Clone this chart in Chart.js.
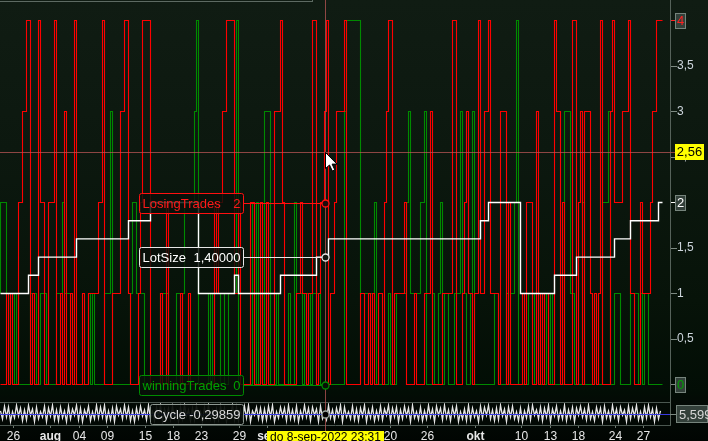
<!DOCTYPE html>
<html><head><meta charset="utf-8">
<script src="https://cdn.jsdelivr.net/npm/chart.js@4.4.0/dist/chart.umd.min.js"></script>
<style>
html,body{margin:0;padding:0;width:708px;height:441px;overflow:hidden;background:#010602;}
#wrap{position:relative;width:708px;height:441px;background:linear-gradient(to bottom,#101c13 0px,#0c180f 150px,#071309 300px,#020d05 392px,#030a05 402px,#020804 425px,#010502 441px);}
canvas{position:absolute;left:0;}
#main{top:0;width:708px;height:400px;}
#cyc{top:400px;width:708px;height:41px;}
</style></head><body><div id="wrap"><canvas id="main" width="708" height="400"></canvas><canvas id="cyc" width="708" height="41"></canvas></div>
<script>
// ---- data (one value per bar) ----
const losingTrades = [
 0,0,0,0,1,0,1,0,0,0, 2,2,3,3,4,4,0,1,0,0, 4,2,2,0,0,2,2,2,4,0, 0,1,0,3,0,0,1,0,4,0,
 0,0,1,0,0,1,1,1,1,1, 2,2,4,0,0,0,0,1,1,1, 1,3,3,4,4,1,0,0,0,0, 1,2,4,4,4,4,0,0,0,0,
 0,1,0,0,2,0,0,0,0,0, 0,1,0,0,0,1,0,0,0,0, 0,0,0,0,0,0,0,0,2,1, 2,2,3,3,4,4,4,4,1,1,
 2,0,0,0,0,0,2,2,0,0, 0,2,0,0,2,0,0,0,3,3, 3,4,2,0,0,0,0,0,0,1, 1,2,1,1,0,1,1,4,4,0,
 1,2,2,3,4,0,1,1,2,3, 3,3,3,4,0,0,0,0,0,0, 0,1,1,0,0,1,0,1,0,0, 1,1,0,2,3,4,4,0,1,1,
 1,1,1,2,0,0,0,0,1,0, 0,0,0,1,1,1,3,0,0,0, 0,0,1,1,1,1,1,4,4,0, 0,0,1,2,3,1,1,0,1,1,
 4,1,1,3,3,4,1,1,1,1, 0,3,3,3,0,2,0,0,0,0, 0,0,1,0,2,2,2,0,0,3, 0,1,0,1,1,0,0,0,4,3,
 3,0,2,0,0,0,0,4,4,0, 2,3,0,3,3,3,1,0,1,0, 1,4,0,0,0,0,3,4,2,2, 2,2,3,3,3,4,1,1,0,0,
 0,2,1,1,1,1,2,3,3,4, 4];
const winningTrades = [
 1,2,2,2,1,0,1,1,0,1, 0,0,0,0,0,0,1,1,1,0, 0,1,1,1,0,0,0,0,0,1, 1,1,2,1,1,1,1,0,0,0,
 0,0,0,0,0,1,0,1,0,0, 0,0,0,1,1,1,3,0,0,0, 0,0,0,0,0,0,1,2,2,1, 1,1,1,0,0,0,0,0,0,0,
 0,1,1,1,1,0,0,0,0,1, 1,1,1,2,2,2,2,2,3,4, 0,0,0,0,0,1,0,1,0,0, 0,1,1,0,0,1,1,1,1,4,
 0,0,0,0,0,0,0,2,0,2, 0,1,0,3,3,3,0,0,0,1, 0,0,0,0,0,1,0,0,2,1, 1,1,0,1,1,1,0,1,1,1,
 1,0,0,0,0,0,0,0,0,0, 0,0,0,3,4,4,4,4,4,4, 4,1,1,1,1,1,1,1,2,0, 0,0,0,0,0,1,0,0,0,1,
 1,1,1,1,2,3,1,1,1,1, 1,2,2,3,0,0,0,1,0,0, 1,2,0,1,1,0,0,0,1,1, 1,3,1,1,0,0,1,3,0,0,
 0,0,0,0,0,0,0,0,1,1, 0,0,0,0,1,0,1,1,2,4, 0,0,0,0,0,1,1,0,1,1, 0,0,0,0,1,0,1,0,0,0,
 0,0,0,3,3,3,1,1,0,0, 0,0,2,0,0,0,0,0,1,0, 0,0,2,2,2,3,0,0,1,1, 1,0,0,0,0,0,1,1,1,1,
 0,1,0,1,1,0,0,0,0,0, 0];
const lotSize = [
 1,1,1,1,1,1,1,1,1,1, 1,1,1,1,1,1.2,1.2,1.2,1.2,1.2,
 1.4,1.4,1.4,1.4,1.4,1.4,1.4,1.4,1.4,1.4, 1.4,1.4,1.4,1.4,1.4,1.4,1.4,1.4,1.4,1.6,
 1.6,1.6,1.6,1.6,1.6,1.6,1.6,1.6,1.6,1.6, 1.6,1.6,1.6,1.6,1.6,1.6,1.6,1.6,1.6,1.6,
 1.6,1.6,1.6,1.6,1.6,1.8,1.8,1.8,1.8,1.8, 1.8,1.8,1.8,1.8,1.8,1.8,2,2,2,2,
 2,2,2,2,2,2,2,2,2,2, 2,2,2,2,2,2,2,2,2,2,
 1,1,1,1,1,1,1,1,1,1, 1,1,1,1,1,1,1,1,1.2,1.2,
 1,1,1,1,1,1,1,1,1,1, 1,1,1,1,1,1,1,1,1,1,
 1,1.2,1.2,1.2,1.2,1.2,1.2,1.2,1.2,1.2, 1.2,1.2,1.2,1.2,1.2,1.2,1.2,1.2,1.2,1.4,
 1.4,1.4,1.4,1.4,1.4,1.6,1.6,1.6,1.6,1.6, 1.6,1.6,1.6,1.6,1.6,1.6,1.6,1.6,1.6,1.6,
 1.6,1.6,1.6,1.6,1.6,1.6,1.6,1.6,1.6,1.6, 1.6,1.6,1.6,1.6,1.6,1.6,1.6,1.6,1.6,1.6,
 1.6,1.6,1.6,1.6,1.6,1.6,1.6,1.6,1.6,1.6, 1.6,1.6,1.6,1.6,1.6,1.6,1.6,1.6,1.6,1.6,
 1.6,1.6,1.6,1.6,1.6,1.6,1.6,1.6,1.6,1.6, 1.6,1.6,1.6,1.6,1.6,1.6,1.6,1.6,1.6,1.6,
 1.6,1.8,1.8,1.8,1.8,2,2,2,2,2, 2,2,2,2,2,2,2,2,2,2,
 2,1,1,1,1,1,1,1,1,1, 1,1,1,1,1,1,1,1,1.2,1.2,
 1.2,1.2,1.2,1.2,1.2,1.2,1.2,1.2,1.2,1.4, 1.4,1.4,1.4,1.4,1.4,1.4,1.4,1.4,1.4,1.4,
 1.4,1.4,1.4,1.4,1.4,1.4,1.4,1.4,1.6,1.6, 1.6,1.6,1.6,1.6,1.6,1.6,1.8,1.8,1.8,1.8,
 1.8,1.8,1.8,1.8,1.8,1.8,1.8,1.8,1.8,1.8,
 2];
const cycle = [
 3,-6,8,-4,7,-9,2,-5,9,-3, 6,-8,4,-7,9,-2,5,-9,7,-6, 2,-4,8,-9,6,-3,9,-7,4,-8, 7,-5,3,-9,8,-6,5,-2,9,-7,
 6,-9,4,-3,8,-8,2,-6,9,-5, 7,-4,9,-8,3,-7,6,-9,8,-2, 5,-6,9,-4,7,-8,3,-9,6,-5, 8,-3,4,-7,9,-6,2,-8,7,-4,
 9,-9,5,-2,6,-7,8,-5,3,-9, 7,-6,9,-3,4,-8,6,-7,8,-4, 2,-9,7,-5,9,-6,3,-8,5,-7, 8,-4,6,-9,2,-3,9,-7,7,-8,
 4,-6,8,-5,9,-9,3,-2,7,-6, 6,-8,5,-7,8,-4,9,-9,2,-5, 7,-3,6,-8,9,-6,4,-7,8,-9, 3,-5,9,-4,6,-8,7,-2,5,-9,
 8,-6,-0.29859,-7,9,-5,4,-8,6,-3, 9,-9,7,-4,2,-6,8,-7,5,-8, 6,-3,9,-9,4,-5,7,-8,3,-6, 8,-7,5,-2,9,-8,6,-4,7,-9,
 4,-6,8,-3,6,-9,9,-5,2,-7, 7,-8,3,-6,9,-4,5,-9,8,-2, 6,-7,9,-5,4,-8,7,-3,8,-9, 2,-6,5,-8,9,-7,6,-4,3,-9,
 8,-5,7,-2,9,-6,4,-8,6,-7, 9,-3,5,-9,7,-4,8,-6,2,-8, 6,-9,3,-5,8,-7,9,-2,4,-6, 7,-8,6,-4,9,-9,5,-3,8,-7,
 3,-6,9,-8,4,-5,7,-9,6,-2, 8,-4,5,-7,9,-6,2,-8,7,-3, 6,-9,8,-5,3,-7,9,-4,5,-8, 7,-2,4,-9,8,-6,6,-3,9,-7,
 2,-8,7,-5,9,-4,5,-9,6,-6, 3];
const tickBars   = [6.5, 25, 39.5, 53.5, 72.5, 86.5, 100.5, 119.5, 133.5, 195, 213.5, 237.5, 260.5, 275, 289, 307.5, 321.5];
const tickLabels = ['26','aug','04','09','15','18','23','29','sep','20','26','okt','10','13','18','24','27'];
const monthLabels = ['aug','sep','okt'];
const yTicks = [0, 0.5, 1, 1.5, 2, 2.5, 3, 3.5, 4];
const crossBar = 162.25;
const crossValue = 2.56;
const cycleLevelText = '5,599';
const dateText = 'do 8-sep-2022 23:31';

// ---- helpers ----
const FONT = '"Liberation Sans", Arial, sans-serif';
const CROSS = 'rgba(185,85,85,0.75)';
function pts(arr){ const p = arr.map((v,i)=>({x:i,y:v})); p.push({x:arr.length,y:arr[arr.length-1]}); return p; }
function fmt(v, d){ return v.toFixed(d).replace('.', ','); }
function rrect(ctx,x,y,w,h,r){ ctx.beginPath(); if(ctx.roundRect){ctx.roundRect(x,y,w,h,r);} else {ctx.rect(x,y,w,h);} }
function hline(ctx,x1,x2,y){ ctx.beginPath(); ctx.moveTo(x1,y); ctx.lineTo(x2,y); ctx.stroke(); }
function vline(ctx,x,y1,y2){ ctx.beginPath(); ctx.moveTo(x,y1); ctx.lineTo(x,y2); ctx.stroke(); }
const TAG_L = 139.5, TAG_R = 243.5;
function drawTag(ctx, name, val, y, border, color, cx){
  y = Math.round(y) + 0.5;
  ctx.lineWidth = 1;
  ctx.strokeStyle = border; hline(ctx, TAG_R, cx, y);
  rrect(ctx, TAG_L, y-10, TAG_R-TAG_L, 20, 2);
  ctx.fillStyle = 'rgba(8,16,10,0.82)'; ctx.fill();
  ctx.strokeStyle = border; ctx.stroke();
  ctx.fillStyle = color; ctx.font = '13px ' + FONT; ctx.textBaseline = 'middle';
  ctx.textAlign = 'left'; ctx.fillText(name, TAG_L + 3, y + 0.5);
  ctx.textAlign = 'right'; ctx.fillText(val, TAG_R - 3, y + 0.5);
}
function marker(ctx, x, y, stroke, fill){
  ctx.beginPath(); ctx.arc(x, y, 3.5, 0, Math.PI*2);
  ctx.fillStyle = fill; ctx.fill(); ctx.lineWidth = 1.3; ctx.strokeStyle = stroke; ctx.stroke();
}
function axisTag(ctx, text, y, color, x, w){
  y = Math.round(y);
  ctx.fillStyle = '#33403a'; ctx.fillRect(x, y-8, w, 16);
  ctx.strokeStyle = '#76847c'; ctx.lineWidth = 1; ctx.strokeRect(x+0.5, y-7.5, w-1, 15);
  ctx.fillStyle = color; ctx.font = '13px ' + FONT; ctx.textAlign = 'center'; ctx.textBaseline = 'middle';
  ctx.fillText(text, x + w/2, y + 0.5);
}
function drawCursor(ctx, x, y){
  const p = [[0,0],[0,16],[4,12.5],[6.8,18.5],[9.3,17.4],[6.6,11.6],[11.5,11.6]];
  ctx.beginPath(); p.forEach(([dx,dy],i)=> i ? ctx.lineTo(x+dx,y+dy) : ctx.moveTo(x+dx,y+dy)); ctx.closePath();
  ctx.fillStyle = '#ffffff'; ctx.fill(); ctx.strokeStyle = '#000000'; ctx.lineWidth = 1; ctx.stroke();
}

const overlayMain = { id: 'overlayMain', afterDraw(chart){
  const ctx = chart.ctx, xs = chart.scales.x, ys = chart.scales.y, a = chart.chartArea;
  const idx = Math.floor(crossBar);
  const cx = Math.round(xs.getPixelForValue(crossBar)) + 0.5;
  const cy = Math.round(ys.getPixelForValue(crossValue)) + 0.5;
  ctx.save();
  ctx.strokeStyle = '#5d6a62'; ctx.lineWidth = 1; hline(ctx, 0, 313, 1.5); vline(ctx, 312.5, 0, 1.5);
  ctx.strokeStyle = CROSS;
  hline(ctx, 0, 676, cy); vline(ctx, cx, 0, chart.height);
  drawTag(ctx, 'LosingTrades', String(losingTrades[idx]), ys.getPixelForValue(losingTrades[idx]), '#ff1010', '#ff1a1a', cx);
  drawTag(ctx, 'LotSize', fmt(lotSize[idx], 5), ys.getPixelForValue(lotSize[idx]), '#e6e6e6', '#ffffff', cx);
  drawTag(ctx, 'winningTrades', String(winningTrades[idx]), ys.getPixelForValue(winningTrades[idx]), '#008c00', '#00a000', cx);
  marker(ctx, cx, Math.round(ys.getPixelForValue(losingTrades[idx]))+0.5, '#ff1010', '#1a0c0c');
  marker(ctx, cx, Math.round(ys.getPixelForValue(lotSize[idx]))+0.5, '#e6e6e6', '#101810');
  marker(ctx, cx, Math.round(ys.getPixelForValue(winningTrades[idx]))+0.5, '#008c00', '#061006');
  const lastR = losingTrades.length - 1, lastL = lotSize.length - 1, lastG = winningTrades.length - 1;
  axisTag(ctx, String(losingTrades[lastR]), ys.getPixelForValue(losingTrades[lastR]), '#ff2020', a.right + 5, 11);
  axisTag(ctx, String(lotSize[lastL]), ys.getPixelForValue(lotSize[lastL]), '#ffffff', a.right + 5, 11);
  axisTag(ctx, String(winningTrades[lastG]), ys.getPixelForValue(winningTrades[lastG]), '#00a000', a.right + 5, 11);
  ctx.fillStyle = '#ffff00'; ctx.fillRect(a.right + 5, cy - 8.5, 29, 16);
  ctx.fillStyle = '#000000'; ctx.font = '13px ' + FONT; ctx.textAlign = 'center'; ctx.textBaseline = 'middle';
  ctx.fillText(fmt(crossValue, 2), a.right + 19.5, cy);
  drawCursor(ctx, cx, cy);
  ctx.restore();
}};

new Chart(document.getElementById('main'), {
  type: 'line',
  data: { datasets: [
    { label: 'LotSize', data: pts(lotSize), stepped: 'after', borderColor: '#ffffff', borderWidth: 1.4, pointRadius: 0, fill: false },
    { label: 'LosingTrades', data: pts(losingTrades), stepped: 'after', borderColor: '#ff0000', borderWidth: 1.1, pointRadius: 0, fill: false },
    { label: 'winningTrades', data: pts(winningTrades), stepped: 'after', borderColor: '#008a00', borderWidth: 1.1, pointRadius: 0, fill: false }
  ]},
  options: {
    responsive: false, animation: false, devicePixelRatio: 1,
    layout: { padding: 0 },
    scales: {
      x: { type: 'linear', min: -0.25, max: 334.75, display: false },
      y: { type: 'linear', position: 'right', min: -0.1703, max: 4.2253,
        afterBuildTicks: s => { s.ticks = yTicks.map(v => ({ value: v })); },
        afterFit: s => { s.width = 38; s.paddingTop = 0; s.paddingBottom = 0; },
        grid: { drawOnChartArea: false, drawTicks: true, tickLength: 7, tickWidth: 1,
          tickColor: c => (c.tick && c.tick.value === 4) ? '#ff2020' : ((c.tick && c.tick.value === 2) ? '#ffffff' : '#7d8a82') },
        border: { display: true, color: '#56625a', width: 1 },
        ticks: { color: '#cdd5dc', font: { family: FONT, size: 12 }, padding: 0,
          callback: v => (v === 0 || v === 2 || v === 4) ? '' : String(v).replace('.', ',') }
      }
    },
    plugins: { legend: { display: false }, tooltip: { enabled: false } },
    elements: { line: { tension: 0 }, point: { radius: 0 } }
  },
  plugins: [overlayMain]
});

const overlayCycle = { id: 'overlayCycle', afterDraw(chart){
  const ctx = chart.ctx, xs = chart.scales.x, ys = chart.scales.y, a = chart.chartArea;
  const idx = Math.floor(crossBar);
  const cx = Math.round(xs.getPixelForValue(crossBar)) + 0.5;
  const y0 = Math.round(ys.getPixelForValue(0)) + 0.5;
  ctx.save();
  ctx.lineWidth = 1;
  ctx.strokeStyle = '#4b5750'; hline(ctx, 0, a.right, Math.round(a.top) + 0.5);
  ctx.strokeStyle = '#56625a'; vline(ctx, a.right + 0.5, 0, a.bottom);
  ctx.strokeStyle = '#3a3ae0'; hline(ctx, 0, a.right, y0);
  ctx.strokeStyle = '#7d8a82'; hline(ctx, a.right, a.right + 6, y0);
  ctx.fillStyle = '#33403a'; ctx.fillRect(a.right + 6, y0 - 9.5, 32, 18);
  ctx.strokeStyle = '#76847c'; ctx.strokeRect(a.right + 6.5, y0 - 9, 31, 17);
  ctx.fillStyle = '#d6d6d6'; ctx.font = '13px ' + FONT; ctx.textAlign = 'left'; ctx.textBaseline = 'middle';
  ctx.fillText(cycleLevelText, a.right + 9, y0 + 0.5);
  const L = 150.5, R = 243.5;
  rrect(ctx, L, y0 - 10, R - L, 20, 2);
  ctx.fillStyle = 'rgba(6,12,8,0.92)'; ctx.fill(); ctx.strokeStyle = '#8d9790'; ctx.stroke();
  ctx.fillStyle = '#d8d8d8'; ctx.font = '13px ' + FONT; ctx.textBaseline = 'middle';
  ctx.textAlign = 'left'; ctx.fillText('Cycle', L + 3, y0 + 0.5);
  ctx.textAlign = 'right'; ctx.fillText(fmt(cycle[idx], 5), R - 3, y0 + 0.5);
  ctx.strokeStyle = CROSS; vline(ctx, cx, 0, chart.height);
  marker(ctx, cx, y0, '#9aa59e', '#000000');
  ctx.font = '12px ' + FONT;
  const tw = ctx.measureText(dateText).width + 6;
  ctx.fillStyle = '#ffff00'; ctx.fillRect(Math.round(cx - tw/2), 31, Math.round(tw), 11);
  ctx.fillStyle = '#000000'; ctx.textAlign = 'center'; ctx.textBaseline = 'middle';
  ctx.fillText(dateText, cx, 37.5);
  ctx.restore();
}};

new Chart(document.getElementById('cyc'), {
  type: 'line',
  data: { datasets: [
    { label: 'Cycle', data: cycle.map((v, i) => ({ x: i, y: v })), borderColor: '#e6e6e6', borderWidth: 1.3, pointRadius: 0, fill: false }
  ]},
  options: {
    responsive: false, animation: false, devicePixelRatio: 1,
    layout: { padding: { top: 2, right: 38, left: 0, bottom: 0 } },
    scales: {
      x: { type: 'linear', min: -0.25, max: 334.75, position: 'bottom',
        afterBuildTicks: s => { s.ticks = tickBars.map(v => ({ value: v })); },
        afterFit: s => { s.height = 16; s.paddingLeft = 0; s.paddingRight = 0; },
        grid: { drawOnChartArea: false, drawTicks: true, tickLength: 3, tickColor: '#6a766e' },
        border: { display: true, color: '#4b5750' },
        ticks: { color: '#e8e8e8', padding: 1, maxRotation: 0, autoSkip: false,
          font: c => ({ family: FONT, size: 12, weight: monthLabels.includes(tickLabels[c.index]) ? 'bold' : 'normal' }),
          callback: (v, i) => tickLabels[i] }
      },
      y: { display: false, min: -12.8, max: 12.8 }
    },
    plugins: { legend: { display: false }, tooltip: { enabled: false } },
    elements: { line: { tension: 0 }, point: { radius: 0 } }
  },
  plugins: [overlayCycle]
});
</script></body></html>
